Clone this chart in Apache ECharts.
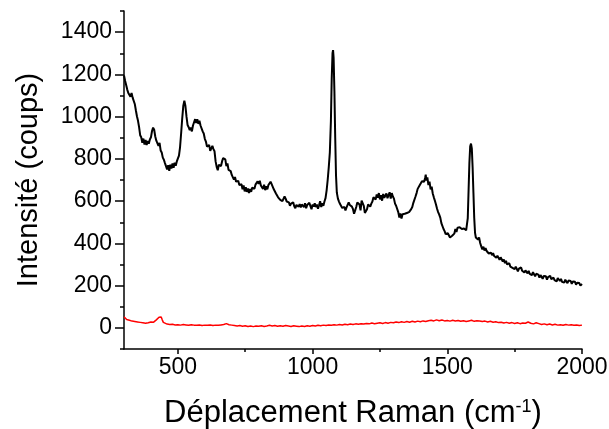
<!DOCTYPE html>
<html>
<head>
<meta charset="utf-8">
<script src="https://cdn.jsdelivr.net/npm/echarts@6/dist/echarts.min.js"></script>
<style>
  html, body { margin: 0; padding: 0; background: #fff; }
  #chart { width: 609px; height: 429px; }
</style>
</head>
<body>
<div id="chart"></div>
<script>
// Raman spectrum of the sample (black) and of the blank (red), [wavenumber, counts]
var sampleSpectrum = [
  [300,1195],[304,1170],[308,1150],[312,1128],[316,1112],[320,1105],[324,1094],[328,1112],[332,1090],[336,1084],
  [340,1060],[344,1030],[348,1002],[352,980],[356,950],[360,912],[364,902],[368,876],[372,896],[376,868],
  [380,890],[384,866],[388,884],[392,872],[396,892],[400,902],[404,932],[408,948],[412,938],[416,906],
  [420,886],[424,882],[428,862],[432,876],[436,840],[440,830],[444,806],[448,796],[452,780],[456,774],
  [460,750],[464,770],[468,744],[472,772],[476,754],[480,778],[484,758],[488,782],[492,768],[496,788],
  [500,790],[504,815],[508,855],[512,920],[516,990],[520,1050],[524,1075],[528,1050],[532,1000],[536,960],
  [540,950],[544,936],[548,948],[552,930],[556,958],[560,966],[564,988],[568,970],[572,988],[576,966],
  [580,980],[584,958],[588,950],[592,930],[596,920],[600,895],[604,882],[608,858],[612,852],[616,866],
  [620,838],[624,850],[628,862],[632,846],[636,836],[640,788],[644,762],[648,746],[652,772],[656,772],
  [660,766],[664,788],[668,804],[672,810],[676,798],[680,766],[684,778],[688,748],[692,740],[696,742],
  [700,724],[704,726],[708,702],[712,714],[716,692],[720,690],[724,696],[728,676],[732,674],[736,680],
  [740,656],[744,674],[748,646],[752,666],[756,644],[760,660],[764,638],[768,658],[772,644],[776,664],
  [780,670],[784,658],[788,678],[792,676],[796,694],[800,682],[804,696],[808,674],[812,674],[816,658],
  [820,678],[824,652],[828,670],[832,656],[836,676],[840,678],[844,692],[848,680],[852,680],[856,656],
  [860,650],[864,636],[868,628],[872,618],[876,624],[880,606],[884,612],[888,600],[892,608],[896,622],
  [900,612],[904,598],[908,590],[912,594],[916,578],[920,588],[924,582],[928,594],[932,576],[936,566],
  [940,582],[944,590],[948,574],[952,586],[956,570],[960,584],[964,578],[968,572],[972,590],[976,566],
  [980,582],[984,574],[988,592],[992,576],[996,562],[1000,584],[1004,574],[1008,590],[1012,572],[1016,584],
  [1020,564],[1024,580],[1028,600],[1032,572],[1036,590],[1040,578],[1044,598],[1048,614],[1052,650],[1056,700],
  [1060,760],[1064,830],[1068,980],[1071,1180],[1074,1300],[1076,1315],[1078,1280],[1081,1120],[1084,900],[1087,720],
  [1090,640],[1094,612],[1098,598],[1102,586],[1106,584],[1110,568],[1114,574],[1118,572],[1122,556],[1126,570],
  [1130,572],[1134,594],[1138,582],[1142,574],[1146,574],[1150,562],[1154,540],[1158,556],[1162,572],[1166,594],
  [1170,598],[1174,584],[1178,556],[1182,602],[1186,610],[1190,578],[1194,544],[1198,542],[1202,562],[1206,584],
  [1210,588],[1214,574],[1218,588],[1222,598],[1226,618],[1230,620],[1234,608],[1238,632],[1242,616],[1246,638],
  [1250,608],[1254,628],[1258,602],[1262,634],[1266,616],[1270,618],[1274,636],[1278,614],[1282,628],[1286,642],
  [1290,612],[1294,638],[1298,622],[1302,612],[1306,588],[1310,578],[1314,572],[1318,548],[1322,522],[1326,542],
  [1330,518],[1334,538],[1338,542],[1342,540],[1346,548],[1350,544],[1354,548],[1358,548],[1362,552],[1366,562],
  [1370,572],[1374,592],[1378,598],[1382,622],[1386,638],[1390,658],[1394,662],[1398,676],[1402,682],[1406,694],
  [1410,696],[1414,692],[1418,712],[1420,725],[1422,698],[1426,712],[1430,676],[1434,692],[1438,656],[1442,668],
  [1446,636],[1450,618],[1454,602],[1458,584],[1462,564],[1466,548],[1470,536],[1474,522],[1478,496],[1482,492],
  [1486,468],[1490,458],[1494,444],[1498,444],[1502,448],[1506,444],[1510,428],[1514,428],[1518,436],[1522,436],
  [1526,446],[1530,468],[1534,454],[1538,474],[1542,474],[1546,476],[1550,474],[1554,468],[1558,472],[1562,470],
  [1566,474],[1570,462],[1573,458],[1576,520],[1579,650],[1582,780],[1585,860],[1588,872],[1591,850],[1594,760],
  [1597,640],[1600,520],[1603,450],[1606,428],[1610,434],[1614,418],[1618,428],[1622,402],[1626,386],[1630,372],
  [1634,384],[1638,366],[1642,378],[1646,364],[1650,370],[1654,352],[1658,360],[1662,356],[1666,344],[1670,354],
  [1674,340],[1678,348],[1682,332],[1686,342],[1690,336],[1694,322],[1698,334],[1702,328],[1706,314],[1710,324],
  [1714,306],[1718,318],[1722,300],[1726,296],[1730,306],[1734,290],[1738,298],[1742,284],[1746,292],[1750,278],
  [1754,290],[1758,282],[1762,268],[1766,280],[1770,276],[1774,286],[1778,270],[1782,276],[1786,262],[1790,272],
  [1794,264],[1798,258],[1802,270],[1806,256],[1810,262],[1814,250],[1818,264],[1822,254],[1826,244],[1830,256],
  [1834,248],[1838,252],[1842,238],[1846,250],[1850,244],[1854,232],[1858,246],[1862,238],[1866,244],[1870,228],
  [1874,240],[1878,232],[1882,246],[1886,230],[1890,224],[1894,238],[1898,226],[1902,232],[1906,220],[1910,236],
  [1914,228],[1918,222],[1922,232],[1926,218],[1930,226],[1934,214],[1938,228],[1942,220],[1946,212],[1950,224],
  [1954,216],[1958,222],[1962,208],[1966,220],[1970,212],[1974,218],[1978,204],[1982,214],[1986,208],[1990,212],
  [1994,200],[1998,194],[2000,208]
];

var blankSpectrum = [
  [300,52],[305,45],[310,40],[315,38],[320,36],[325,34],[330,32],[340,30],[350,28],[360,26],
  [370,24],[380,22],[390,24],[400,28],[405,30],[410,27],[415,32],[420,38],[425,44],[430,50],
  [434,56],[438,52],[442,38],[446,26],[450,20],[460,18],[470,16],[480,17],[490,14],[500,15],
  [510,13],[520,16],[530,14],[540,12],[550,15],[560,13],[570,12],[580,14],[590,11],[600,13],
  [610,12],[620,14],[630,11],[640,13],[650,12],[660,14],[670,16],[680,20],[690,15],[700,13],
  [710,11],[720,9],[730,11],[740,8],[750,10],[760,7],[770,9],[780,6],[790,9],[800,8],
  [810,10],[820,7],[830,9],[840,12],[850,9],[860,11],[870,8],[880,10],[890,8],[900,11],
  [910,9],[920,7],[930,10],[940,8],[950,6],[960,9],[970,7],[980,10],[990,8],[1000,11],
  [1010,9],[1020,12],[1030,10],[1040,13],[1050,11],[1060,14],[1070,12],[1080,15],[1090,13],[1100,16],
  [1110,14],[1120,17],[1130,15],[1140,18],[1150,16],[1160,19],[1170,17],[1180,20],[1190,18],[1200,21],
  [1210,19],[1220,23],[1230,20],[1240,22],[1250,24],[1260,21],[1270,25],[1280,22],[1290,26],[1300,24],
  [1310,28],[1320,25],[1330,29],[1340,26],[1350,30],[1360,27],[1370,31],[1380,28],[1390,32],[1400,29],
  [1410,33],[1420,30],[1430,34],[1440,36],[1450,33],[1460,38],[1470,34],[1480,37],[1490,33],[1500,35],
  [1510,32],[1520,36],[1530,33],[1540,35],[1550,31],[1560,34],[1570,30],[1580,33],[1590,36],[1600,31],
  [1610,34],[1620,33],[1630,30],[1640,32],[1650,28],[1660,31],[1670,27],[1680,29],[1690,25],[1700,27],
  [1710,23],[1720,26],[1730,22],[1740,25],[1750,21],[1760,24],[1770,20],[1780,23],[1790,22],[1800,28],
  [1810,22],[1820,19],[1830,24],[1840,20],[1850,16],[1860,19],[1870,15],[1880,18],[1890,14],[1900,17],
  [1910,13],[1920,15],[1930,12],[1940,16],[1950,13],[1960,15],[1970,12],[1980,14],[1990,11],[2000,13]
];

// Axis ticks
var xMajorTicks = [500, 1000, 1500, 2000];
var xMinorTicks = [750, 1250, 1750];
var yMajorTicks = [0, 200, 400, 600, 800, 1000, 1200, 1400];

var FONT = '"Liberation Sans", Arial, sans-serif';
var INK = '#000';

function plain(v) { return String(v); }

var chart = echarts.init(document.getElementById('chart'), null, { renderer: 'canvas' });

chart.setOption({
  animation: false,
  backgroundColor: '#fff',
  grid: { left: 124, right: 27, top: 11, bottom: 80, containLabel: false, outerBoundsMode: 'none' },
  xAxis: [
    {
      type: 'value', min: 300, max: 2000, position: 'bottom',
      name: 'Déplacement Raman (cm{sup|-1})',
      nameLocation: 'middle', nameGap: 49,
      nameTextStyle: {
        fontFamily: FONT, fontSize: 31, color: INK,
        rich: { sup: { fontFamily: FONT, fontSize: 18, color: INK, verticalAlign: 'top', padding: [0, 0, 13, 0] } }
      },
      axisLine: { show: true, onZero: false, lineStyle: { color: INK, width: 1.5 } },
      axisTick: { show: true, inside: false, length: 5, customValues: xMajorTicks, lineStyle: { color: INK, width: 1.5 } },
      axisLabel: { customValues: xMajorTicks, formatter: plain, fontFamily: FONT, fontSize: 23, color: INK, margin: 7 },
      splitLine: { show: false }
    },
    {
      type: 'value', min: 300, max: 2000, position: 'bottom',
      axisLine: { show: false, onZero: false },
      axisTick: { show: true, inside: false, length: 3, customValues: xMinorTicks, lineStyle: { color: INK, width: 1.5 } },
      axisLabel: { show: false },
      splitLine: { show: false }
    }
  ],
  yAxis: [
    {
      type: 'value', min: -100, max: 1500, position: 'left',
      name: 'Intensité (coups)',
      nameLocation: 'middle', nameGap: 81, nameRotate: 90,
      nameTextStyle: { fontFamily: FONT, fontSize: 29, color: INK },
      axisLine: { show: true, onZero: false, lineStyle: { color: INK, width: 1.5 } },
      axisTick: { show: true, inside: false, length: 9, customValues: yMajorTicks, lineStyle: { color: INK, width: 1.5 } },
      axisLabel: { customValues: yMajorTicks, formatter: plain, fontFamily: FONT, fontSize: 23, color: INK, margin: 12 },
      splitLine: { show: false }
    },
    {
      type: 'value', min: -100, max: 1500, interval: 100, position: 'left',
      axisLine: { show: false, onZero: false },
      axisTick: { show: true, inside: false, length: 4, lineStyle: { color: INK, width: 1.5 } },
      axisLabel: { show: false },
      splitLine: { show: false }
    }
  ],
  series: [
    {
      name: 'blank', type: 'line', xAxisIndex: 0, yAxisIndex: 0,
      data: blankSpectrum, showSymbol: false, symbol: 'none',
      lineStyle: { color: '#ff0000', width: 1.5 }
    },
    {
      name: 'sample', type: 'line', xAxisIndex: 0, yAxisIndex: 0,
      data: sampleSpectrum, showSymbol: false, symbol: 'none',
      lineStyle: { color: '#000000', width: 2 }
    }
  ]
});
</script>
</body>
</html>
